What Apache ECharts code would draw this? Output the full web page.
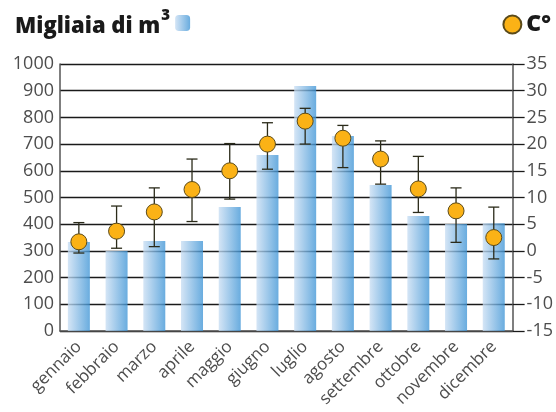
<!DOCTYPE html>
<html lang="it">
  <head>
    <meta charset="UTF-8" />
    <title>acqua e temperatura</title>
    <style>
      html, body { margin: 0; padding: 0; background: #fff; }
      #main { width: 556px; height: 412px; }
    </style>
  </head>
  <body>
    <div id="main"></div>
  </body>
  <script src="https://cdn.jsdelivr.net/npm/echarts@6/dist/echarts.min.js"></script>
  <script>
    /* globals echarts */

    var mesi = ["gennaio", "febbraio", "marzo", "aprile", "maggio", "giugno",
      "luglio", "agosto", "settembre", "ottobre", "novembre", "dicembre"];
    // migliaia di m3
    var volumi = [333, 300, 337, 337, 464, 659, 918, 730, 547, 431, 401, 404];
    // temperatura media, minima, massima (C°)
    var tempMedia = [1.7, 3.7, 7.3, 11.5, 15.0, 20.0, 24.3, 21.1, 17.2, 11.6, 7.5, 2.5];
    var tempMin = [-0.4, 0.5, 0.8, 5.5, 9.7, 15.3, 20.0, 15.6, 12.5, 7.2, 1.6, -1.5];
    var tempMax = [5.3, 8.4, 11.8, 17.2, 20.1, 24.0, 26.7, 23.5, 20.6, 17.7, 11.8, 8.2];

    var font = "'Open Sans', sans-serif";
    var grigio = "#4d4d4d";

    var barre = new echarts.graphic.LinearGradient(0, 0, 1, 0, [
      { offset: 0, color: "#c9def3" },
      { offset: 1, color: "#3f95d6" }
    ]);

    var erroriData = mesi.map(function (m, i) {
      return [i, tempMin[i], tempMax[i]];
    });

    function disegnaErrore(params, api) {
      var basso = api.coord([api.value(0), api.value(1)]);
      var alto = api.coord([api.value(0), api.value(2)]);
      var mezzo = 5.5;
      var stile = { stroke: "#2b2b1a", lineWidth: 1.3 };
      return {
        type: "group",
        children: [
          { type: "line", shape: { x1: alto[0], y1: alto[1], x2: basso[0], y2: basso[1] }, style: stile },
          { type: "line", shape: { x1: alto[0] - mezzo, y1: alto[1], x2: alto[0] + mezzo, y2: alto[1] }, style: stile },
          { type: "line", shape: { x1: basso[0] - mezzo, y1: basso[1], x2: basso[0] + mezzo, y2: basso[1] }, style: stile }
        ]
      };
    }

    var chart = echarts.init(document.getElementById("main"));

    var option = {
      animation: false,
      textStyle: { fontFamily: font },
      grid: { left: 60, right: 42, top: 64, bottom: 81 },
      legend: [
        {
          data: ["Migliaia di m3"],
          left: 10,
          top: 3,
          align: "right",
          itemWidth: 15,
          itemHeight: 16,
          itemGap: 12,
          formatter: "{a|Migliaia di m}{s|3}",
          textStyle: {
            rich: {
              a: { fontFamily: font, fontWeight: 800, fontSize: 22, color: "#1a1a1a", padding: [8, 0, 0, 0] },
              s: { fontFamily: font, fontWeight: 800, fontSize: 15, color: "#1a1a1a", verticalAlign: "top", padding: [0, 0, 4, 1] }
            }
          }
        },
        {
          data: ["C°"],
          right: 0,
          top: 8,
          align: "left",
          itemWidth: 18,
          itemHeight: 18,
          itemGap: 6,
          textStyle: { fontFamily: font, fontWeight: 800, fontSize: 23, color: "#1a1a1a" }
        }
      ],
      xAxis: {
        type: "category",
        data: mesi,
        axisTick: { show: false },
        axisLine: { lineStyle: { color: "#555", width: 1.5 } },
        axisLabel: { rotate: 45, margin: 13, color: grigio, fontSize: 17, interval: 0 }
      },
      yAxis: [
        {
          type: "value",
          min: 0,
          max: 1000,
          interval: 100,
          axisLine: { show: true, lineStyle: { color: "#555", width: 1.5 } },
          axisTick: { show: false },
          axisLabel: { color: grigio, fontSize: 18, margin: 6, formatter: function (v) { return String(v); } },
          splitLine: { lineStyle: { color: "#1a1a1a", width: 1.3 } }
        },
        {
          type: "value",
          min: -15,
          max: 35,
          interval: 5,
          axisLine: { show: true, lineStyle: { color: "#555", width: 1.5 } },
          axisTick: { show: true, inside: false, length: 12, lineStyle: { color: "#1a1a1a", width: 1.3 } },
          axisLabel: { color: grigio, fontSize: 18, margin: 14 },
          splitLine: { show: false }
        }
      ],
      series: [
        {
          name: "Migliaia di m3",
          type: "bar",
          data: volumi,
          barWidth: 22,
          itemStyle: { color: barre, opacity: 0.78 }
        },
        {
          name: "errore",
          type: "custom",
          yAxisIndex: 1,
          data: erroriData,
          renderItem: disegnaErrore,
          encode: { x: 0, y: [1, 2] },
          z: 3
        },
        {
          name: "C°",
          type: "scatter",
          yAxisIndex: 1,
          data: tempMedia,
          symbolSize: 16,
          itemStyle: { color: "#fbb216", borderColor: "#5a4a1a", borderWidth: 1, opacity: 1 },
          z: 4
        }
      ]
    };

    chart.setOption(option);
  </script>
</html>
